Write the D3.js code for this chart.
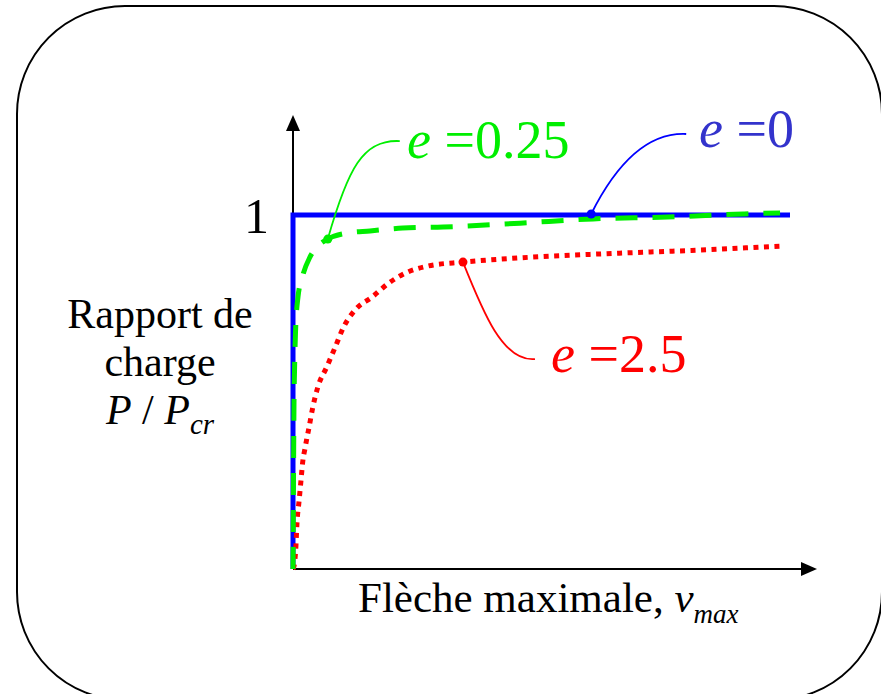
<!DOCTYPE html>
<html>
<head>
<meta charset="utf-8">
<script src="https://cdn.jsdelivr.net/npm/d3@7"></script>
<style>
  html, body { margin: 0; padding: 0; background: #fff; }
  svg { display: block; }
  text, tspan { font-family: "Liberation Serif", "Times New Roman", serif; }
</style>
</head>
<body>
<svg id="chart" width="881" height="694"></svg>
<script>
// ---- data (x: maximal deflection v_max, arbitrary units; y: P/Pcr) ----
const perfectX   = [0, 0, 10];
const perfectY   = [0, 1, 1];
const e025X = [0, 0.01, 0.02, 0.03, 0.05, 0.10, 0.20, 0.34, 0.50, 0.70, 1.09, 1.55, 2.21, 3.02, 4.57, 6.04, 7.53, 9.06, 9.80];
const e025Y = [0, 0.251, 0.469, 0.556, 0.667, 0.768, 0.831, 0.881, 0.912, 0.932, 0.949, 0.955, 0.963, 0.966, 0.977, 0.989, 0.994, 1.003, 1.006];
const e25X  = [0, 0.02, 0.06, 0.08, 0.12, 0.16, 0.20, 0.24, 0.28, 0.32, 0.40, 0.50, 0.68, 0.85, 1.01, 1.25, 1.59, 1.93, 2.31, 2.72, 3.42, 4.57, 6.18, 8.19, 9.80];
const e25Y  = [0, 0.008, 0.068, 0.130, 0.189, 0.249, 0.308, 0.339, 0.370, 0.398, 0.458, 0.514, 0.571, 0.627, 0.681, 0.732, 0.768, 0.808, 0.839, 0.856, 0.867, 0.879, 0.890, 0.901, 0.912];
const yTickValues = [1];
const yTickLabels = ["1"];
const seriesNames = ["0", "0.25", "2.5"];   // e values
const annotatedIndex = [null, 9, 20];       // point on each curve the label points to
const perfectAnnotX = 6.0;                  // where e = 0 leader touches the plateau

const FONT = "Liberation Serif";
const svg = d3.select("#chart");
const x = d3.scaleLinear().domain([0, 10]).range([293, 790]);
const y = d3.scaleLinear().domain([0, 1]).range([569, 215]);

// rounded frame
svg.append("rect").attr("x", 17).attr("y", 6).attr("width", 865).attr("height", 694)
  .attr("rx", 108).attr("ry", 108).attr("fill", "none").attr("stroke", "#000").attr("stroke-width", 2);

// arrow markers
const defs = svg.append("defs");
defs.append("marker").attr("id", "arrow").attr("viewBox", "0 0 16 14")
  .attr("refX", 0).attr("refY", 7).attr("markerWidth", 16).attr("markerHeight", 14)
  .attr("markerUnits", "userSpaceOnUse").attr("orient", "auto")
  .append("path").attr("d", "M0,0 L16,7 L0,14 Z").attr("fill", "#000");

// axes
svg.append("line").attr("x1", x(0)).attr("y1", y(0)).attr("x2", 801).attr("y2", y(0))
  .attr("stroke", "#000").attr("stroke-width", 2).attr("marker-end", "url(#arrow)");
svg.append("line").attr("x1", x(0)).attr("y1", y(0)).attr("x2", x(0)).attr("y2", 131)
  .attr("stroke", "#000").attr("stroke-width", 2).attr("marker-end", "url(#arrow)");

const yAxis = d3.axisLeft(y).tickValues(yTickValues).tickFormat((d, i) => yTickLabels[i])
  .tickSize(0).tickPadding(24);
const gy = svg.append("g").attr("transform", `translate(${x(0)},0)`).call(yAxis);
gy.attr("font-family", FONT);
gy.select(".domain").remove();
gy.selectAll("text").attr("font-family", FONT).attr("font-size", 50)
  .attr("fill", "#000").attr("dy", "0.35em");

// curves
const zip = (xs, ys) => xs.map((v, i) => [v, ys[i]]);
const lineLin = d3.line().x(d => x(d[0])).y(d => y(d[1]));
const lineSmooth = d3.line().x(d => x(d[0])).y(d => y(d[1])).curve(d3.curveMonotoneX);

svg.append("path").attr("d", lineLin(zip(perfectX, perfectY)))
  .attr("fill", "none").attr("stroke", "#0000ff").attr("stroke-width", 5).attr("stroke-linejoin", "miter");
svg.append("path").attr("d", lineSmooth(zip(e25X, e25Y)))
  .attr("fill", "none").attr("stroke", "#ff0000").attr("stroke-width", 5).attr("stroke-dasharray", "5 5.5");
svg.append("path").attr("d", lineSmooth(zip(e025X, e025Y)))
  .attr("fill", "none").attr("stroke", "#00ee00").attr("stroke-width", 5).attr("stroke-dasharray", "22 15");

// annotations
function annot(px, py, path, color, textColor, tx, tyBase, val) {
  svg.append("path").attr("d", path).attr("fill", "none").attr("stroke", color).attr("stroke-width", 1.8);
  svg.append("circle").attr("cx", px).attr("cy", py).attr("r", 4.5).attr("fill", color);
  const t = svg.append("text").attr("x", tx).attr("y", tyBase).attr("font-size", 54)
    .attr("font-family", FONT).attr("fill", textColor);
  t.append("tspan").attr("font-family", FONT).attr("font-style", "italic").text("e");
  t.append("tspan").attr("font-family", FONT).text(" =" + val);
}

// e = 0
{
  const px = x(perfectAnnotX), py = y(1) - 1;
  annot(px, py, `M${px},${py} C${px + 20},${py - 40} ${px + 50},${py - 82} ${px + 95},${py - 80}`,
    "#0000ff", "#3333cc", 699, 147, seriesNames[0]);
}
// e = 0.25
{
  const i = annotatedIndex[1];
  const px = x(e025X[i]), py = y(e025Y[i]);
  annot(px, py, `M${px},${py} C${px + 20},${py - 70} ${px + 35},${py - 100} ${px + 72},${py - 98}`,
    "#00ee00", "#00ee00", 407, 158, seriesNames[1]);
}
// e = 2.5
{
  const i = annotatedIndex[2];
  const px = x(e25X[i]), py = y(e25Y[i]);
  annot(px, py, `M${px},${py} C${px + 20},${py + 50} ${px + 40},${py + 100} ${px + 72},${py + 97}`,
    "#ff0000", "#ff0000", 551, 372, seriesNames[2]);
}

// axis titles
const yt = svg.append("text").attr("text-anchor", "middle").attr("font-size", 42)
  .attr("font-family", FONT).attr("fill", "#000");
yt.append("tspan").attr("x", 160).attr("y", 328).text("Rapport de");
yt.append("tspan").attr("x", 160).attr("y", 376).text("charge");
const yt3 = svg.append("text").attr("text-anchor", "middle").attr("font-size", 42)
  .attr("font-family", FONT).attr("fill", "#000").attr("x", 160).attr("y", 424);
yt3.append("tspan").attr("font-style", "italic").text("P");
yt3.append("tspan").text(" / ");
yt3.append("tspan").attr("font-style", "italic").text("P");
yt3.append("tspan").attr("font-style", "italic").attr("font-size", 29).attr("dy", 10).text("cr");

const xt = svg.append("text").attr("x", 358).attr("y", 612).attr("font-size", 43)
  .attr("font-family", FONT).attr("fill", "#000");
xt.append("tspan").text("Flèche maximale, ");
xt.append("tspan").attr("font-style", "italic").text("v");
xt.append("tspan").attr("font-style", "italic").attr("font-size", 27).attr("dy", 11).text("max");
</script>
</body>
</html>
